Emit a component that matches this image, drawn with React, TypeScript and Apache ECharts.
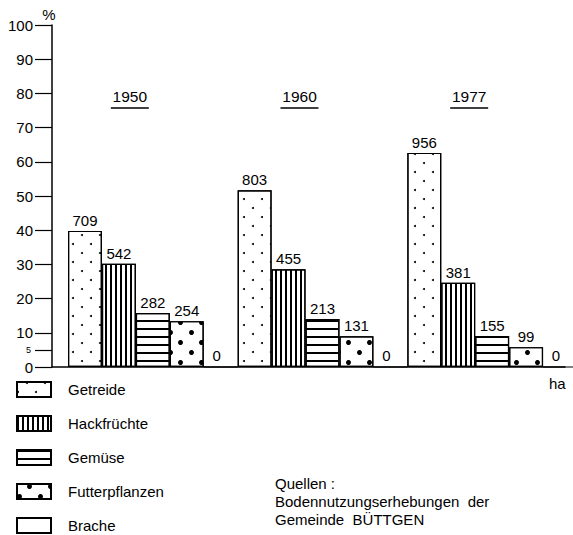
import React, { useEffect, useRef } from "react";
import * as echarts from "echarts";

const FONT = "'Liberation Sans', Arial, sans-serif";

// Categories
const years = ["1950", "1960", "1977"];
const cropNames = ["Getreide", "Hackfrüchte", "Gemüse", "Futterpflanzen", "Brache"];

// Share of farmland in % (bar heights), per crop, for 1950 / 1960 / 1977
const getreidePct = [39.8, 51.7, 62.6];
const hackPct = [30.2, 28.6, 24.6];
const gemusePct = [15.8, 14.0, 9.1];
const futterPct = [13.4, 9.0, 5.8];
const brachePct = [0, 0, 0];

// Area in hectares (bar labels)
const getreideHa = [709, 803, 956];
const hackHa = [542, 455, 381];
const gemuseHa = [282, 213, 155];
const futterHa = [254, 131, 99];
const bracheHa = [0, 0, 0];

// Y axis ticks
const yTicks = [0, 5, 10, 20, 30, 40, 50, 60, 70, 80, 90, 100];

const pctByCrop = [getreidePct, hackPct, gemusePct, futterPct, brachePct];
const haByCrop = [getreideHa, hackHa, gemuseHa, futterHa, bracheHa];

const decals: any[] = [
  {
    symbol: "circle",
    symbolSize: 1,
    color: "#000",
    dashArrayX: [[2, 16], [0, 9, 2, 7]],
    dashArrayY: [2, 7],
  },
  {
    symbol: "rect",
    symbolSize: 1,
    symbolKeepAspect: false,
    color: "#000",
    dashArrayX: [1.3, 2.2],
    dashArrayY: [10, 0],
  },
  {
    symbol: "rect",
    symbolSize: 1,
    symbolKeepAspect: false,
    color: "#000",
    dashArrayX: [10, 0],
    dashArrayY: [1.4, 5.3],
  },
  {
    symbol: "circle",
    symbolSize: 1,
    color: "#000",
    dashArrayX: [[4.5, 15.5], [0, 10, 4.5, 5.5]],
    dashArrayY: [4.5, 4.5],
  },
  null,
];

export default function App() {
  const ref = useRef<HTMLDivElement>(null);

  useEffect(() => {
    document.body.style.margin = "0";
    const chart = echarts.init(ref.current!, null, { renderer: "svg" });

    const series = cropNames.map((name, i) => ({
      name,
      type: "bar",
      xAxisIndex: 1,
      yAxisIndex: 1,
      barGap: "0%",
      barCategoryGap: "0%",
      data: pctByCrop[i],
      itemStyle: {
        color: "#fff",
        borderColor: "#000",
        borderWidth: 1.2,
        ...(decals[i] ? { decal: decals[i] } : {}),
      },
      label: {
        show: true,
        position: "top",
        distance: 3,
        offset: i === 4 ? [-4, 0] : [0, 0],
        color: "#000",
        fontSize: 15,
        fontFamily: FONT,
        formatter: (p: any) => String(haByCrop[i][p.dataIndex]),
      },
    }));

    chart.setOption({
      animation: false,
      backgroundColor: "#fff",
      textStyle: { fontFamily: FONT },
      grid: [
        { left: 52, right: 8, top: 25, bottom: 168, containLabel: false, outerBoundsMode: "none" },
        { left: 68, width: 509, top: 25, bottom: 168, containLabel: false, outerBoundsMode: "none" },
      ],
      xAxis: [
        {
          type: "value",
          gridIndex: 0,
          min: 0,
          max: 1,
          axisLine: { show: true, lineStyle: { color: "#000", width: 1.5 } },
          axisTick: { show: false },
          axisLabel: { show: false },
          splitLine: { show: false },
          name: "ha",
          nameLocation: "end",
          nameGap: -16,
          nameMoveOverlap: false,
          nameTextStyle: {
            color: "#000",
            fontSize: 15,
            fontFamily: FONT,
            verticalAlign: "top",
            padding: [9, 0, 0, 0],
          },
        },
        {
          type: "category",
          gridIndex: 1,
          data: years,
          position: "top",
          axisLine: { show: false },
          axisTick: { show: false },
          splitLine: { show: false },
          axisLabel: {
            show: true,
            margin: -86,
            padding: [0, 46, 0, 0],
            formatter: (v: string) => `{t|${v}}\n{u|}`,
            rich: {
              t: { fontSize: 15.5, fontFamily: FONT, color: "#000", lineHeight: 17 },
              u: { width: 38, height: 1.5, lineHeight: 6, backgroundColor: "#000" },
            },
          },
        },
      ],
      yAxis: [
        {
          type: "value",
          gridIndex: 0,
          min: 0,
          max: 100,
          interval: 10,
          name: "%",
          nameLocation: "end",
          nameGap: 3,
          nameMoveOverlap: false,
          nameTextStyle: {
            color: "#000",
            fontSize: 15,
            fontFamily: FONT,
            padding: [0, 6, 0, 0],
          },
          axisLine: { show: true, lineStyle: { color: "#000", width: 1.5 } },
          axisTick: {
            show: true,
            inside: false,
            length: 17,
            customValues: yTicks,
            lineStyle: { color: "#000", width: 1.2 },
          },
          axisLabel: {
            show: true,
            margin: 19,
            customValues: yTicks,
            color: "#000",
            fontSize: 15,
            fontFamily: FONT,
            formatter: (v: number) => (v === 5 ? "{s|5}" : String(v)),
            rich: {
              s: { fontSize: 9, fontFamily: FONT, color: "#000", padding: [0, 2, 0, 0] },
            },
          },
          splitLine: { show: false },
        },
        {
          type: "value",
          gridIndex: 1,
          min: 0,
          max: 100,
          show: false,
          splitLine: { show: false },
        },
      ],
      legend: {
        orient: "vertical",
        left: 16,
        top: 381,
        height: 300,
        padding: 0,
        icon: "rect",
        itemWidth: 34,
        itemHeight: 15,
        itemGap: 17,
        selectedMode: false,
        data: cropNames,
        textStyle: {
          color: "#000",
          fontSize: 15,
          fontFamily: FONT,
          padding: [0, 0, 0, 12],
        },
      },
      graphic: [
        {
          type: "text",
          left: 275,
          top: 474,
          style: {
            text: "Quellen :\nBodennutzungserhebungen  der\nGemeinde  BÜTTGEN",
            font: `15px ${FONT}`,
            lineHeight: 18,
            fill: "#000",
          },
        },
      ],
      series,
    });

    return () => chart.dispose();
  }, []);

  return (
    <div
      ref={ref}
      style={{ position: "fixed", left: 0, top: 0, width: 573, height: 535 }}
    />
  );
}
